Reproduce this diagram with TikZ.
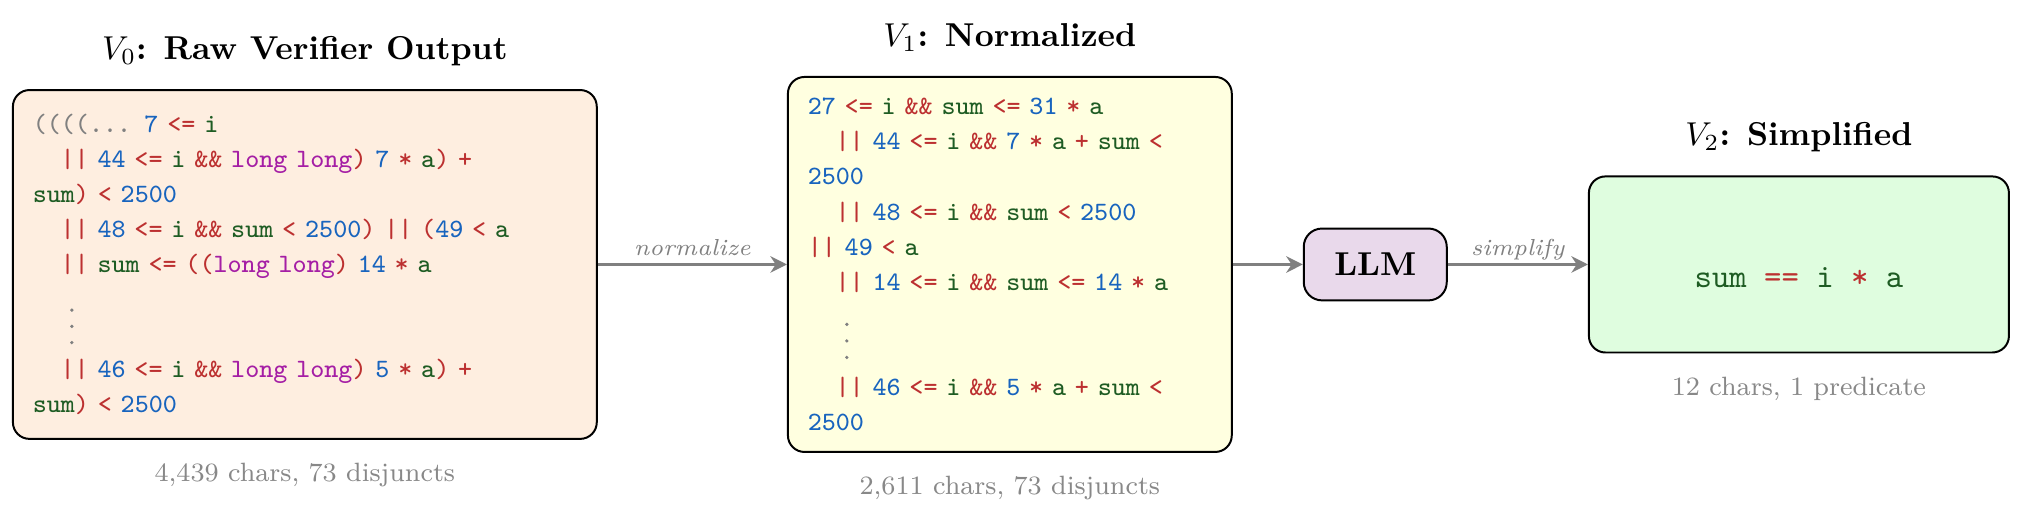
\documentclass[tikz,border=0pt]{standalone}
\usetikzlibrary{arrows.meta}
\definecolor{cnum}{RGB}{24,100,190}
\definecolor{cop}{RGB}{188,48,48}
\definecolor{cvar}{RGB}{30,92,35}
\definecolor{ctype}{RGB}{165,30,165}
\definecolor{cgray}{RGB}{128,128,128}
\definecolor{capgray}{RGB}{136,136,136}
\definecolor{vzfill}{RGB}{254,238,224}
\definecolor{vofill}{RGB}{255,255,224}
\definecolor{llmfill}{RGB}{233,217,235}
\definecolor{vtfill}{RGB}{223,253,223}
\newcommand\Cn[1]{\textcolor{cnum}{#1}}
\newcommand\Co[1]{\textcolor{cop}{#1}}
\newcommand\Cv[1]{\textcolor{cvar}{#1}}
\newcommand\Ct[1]{\textcolor{ctype}{#1}}
\newcommand\Cg[1]{\textcolor{cgray}{#1}}
\newcommand\Ind{\hspace*{8.4pt}}
\newcommand\codefont{\ttfamily\fontsize{8}{10.6}\selectfont}
\begin{document}
\begin{tikzpicture}[x=1pt,y=1pt,
  codebox/.style={draw=black, line width=0.6pt, rounded corners=5pt, align=left,
    inner xsep=6pt, inner ysep=4pt, font=\codefont},
  ttl/.style={anchor=base, font=\normalsize\bfseries},
  captxt/.style={anchor=base, font=\footnotesize, text=capgray},
  arr/.style={draw=cgray, line width=0.8pt, -{Stealth[length=5pt,width=5pt]}},
  lab/.style={anchor=base, yshift=2.7pt, font=\scriptsize\itshape, text=cgray},
  vdot/.style={fill=cgray}]
\useasboundingbox (0,0) rectangle (611.2,-158);

\node[codebox, fill=vzfill, minimum width=176.4pt, minimum height=105.4pt, text width=164.4pt] (v0) at (92.1,-79.9) {%
\Cg{((((...} \Cn{7} \Co{<=} \Cv{i}\\
\Ind\Co{||} \Cn{44} \Co{<=} \Cv{i} \Co{\&\&} \Ct{long long}\Co{)} \Cn{7} \Co{*} \Cv{a}\Co{)} \Co{+}\\
\Cv{sum}\Co{)} \Co{<} \Cn{2500}\\
\Ind\Co{||} \Cn{48} \Co{<=} \Cv{i} \Co{\&\&} \Cv{sum} \Co{<} \Cn{2500}\Co{)} \Co{||} \Co{(}\Cn{49} \Co{<} \Cv{a}\\
\Ind\Co{||} \Cv{sum} \Co{<=} \Co{((}\Ct{long long}\Co{)} \Cn{14} \Co{*} \Cv{a}\\
\mbox{}\\[10.6pt]
\Ind\Co{||} \Cn{46} \Co{<=} \Cv{i} \Co{\&\&} \Ct{long long}\Co{)} \Cn{5} \Co{*} \Cv{a}\Co{)} \Co{+}\\
\Cv{sum}\Co{)} \Co{<} \Cn{2500}};

\node[codebox, fill=vofill, minimum width=134.1pt, minimum height=113.3pt, text width=122.1pt] (v1) at (305.1,-79.9) {%
\Cn{27} \Co{<=} \Cv{i} \Co{\&\&} \Cv{sum} \Co{<=} \Cn{31} \Co{*} \Cv{a}\\
\Ind\Co{||} \Cn{44} \Co{<=} \Cv{i} \Co{\&\&} \Cn{7} \Co{*} \Cv{a} \Co{+} \Cv{sum} \Co{<}\\
\Cn{2500}\\
\Ind\Co{||} \Cn{48} \Co{<=} \Cv{i} \Co{\&\&} \Cv{sum} \Co{<} \Cn{2500}\\
\Co{||} \Cn{49} \Co{<} \Cv{a}\\
\Ind\Co{||} \Cn{14} \Co{<=} \Cv{i} \Co{\&\&} \Cv{sum} \Co{<=} \Cn{14} \Co{*} \Cv{a}\\
\mbox{}\\[10.6pt]
\Ind\Co{||} \Cn{46} \Co{<=} \Cv{i} \Co{\&\&} \Cn{5} \Co{*} \Cv{a} \Co{+} \Cv{sum} \Co{<}\\
\Cn{2500}};

\foreach \dy in {-13.8,-18.7,-23.6}
  \fill[vdot] ([xshift=18.1pt,yshift=\dy pt]v0.west) circle (0.55pt);
\foreach \dy in {-18.1,-23.1,-28.1}
  \fill[vdot] ([xshift=18.1pt,yshift=\dy pt]v1.west) circle (0.55pt);

\node[draw=black, line width=0.6pt, rounded corners=5.5pt, fill=llmfill, minimum width=43.2pt, minimum height=21.7pt, font=\normalsize\bfseries] (llm) at (415.5,-79.9) {LLM};

\node[draw=black, line width=0.6pt, rounded corners=5pt, fill=vtfill, minimum width=126.9pt, minimum height=53.2pt, text height=14pt, text depth=0pt, font=\normalsize\ttfamily] (v2) at (543.5,-79.9) {\Cv{sum} \Co{==} \Cv{i} \Co{*} \Cv{a}};

\node[ttl] (t0) at ([yshift=9pt]v0.north) {$V_0$: Raw Verifier Output};
\node[ttl] (t1) at ([yshift=9pt]v1.north) {$V_1$: Normalized};
\node[ttl] (t2) at ([yshift=9pt]v2.north) {$V_2$: Simplified};

\node[captxt] (c0) at ([yshift=-12.7pt]v0.south) {4,439 chars, 73 disjuncts};
\node[captxt] (c1) at ([yshift=-12.7pt]v1.south) {2,611 chars, 73 disjuncts};
\node[captxt] (c2) at ([yshift=-12.7pt]v2.south) {12 chars, 1 predicate};

\draw[arr] (v0.east) -- node[lab] {normalize} (v1.west);
\draw[arr] (v1.east) -- (llm.west);
\draw[arr] (llm.east) -- node[lab] {simplify} (v2.west);
\end{tikzpicture}
\end{document}
